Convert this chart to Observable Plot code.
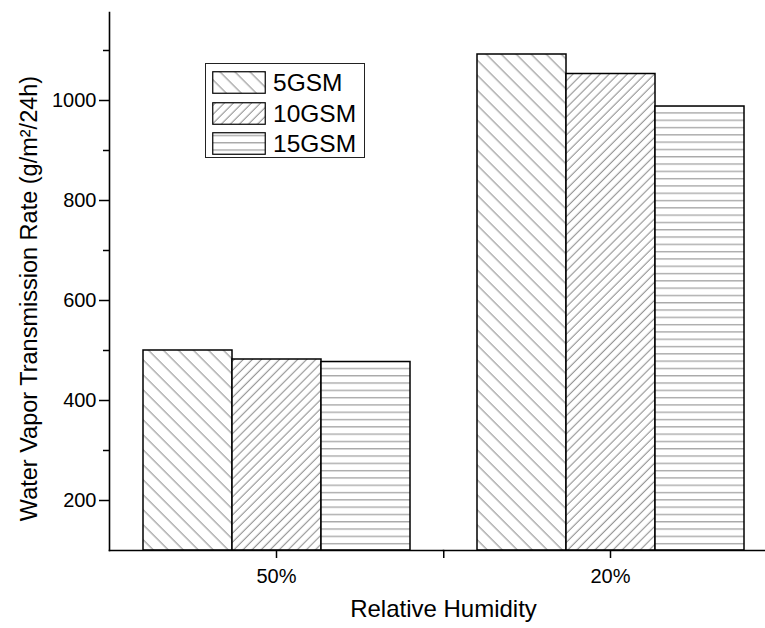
<!DOCTYPE html>
<html><head><meta charset="utf-8">
<script src="https://cdn.jsdelivr.net/npm/d3@7"></script>
<script src="https://cdn.jsdelivr.net/npm/@observablehq/plot@0.6"></script>
<style>
html,body{margin:0;padding:0;background:#fff;overflow:hidden}
#wrap{position:relative;width:765px;height:628px}
#wrap g[aria-label="fx-axis label"]{font-size:24px}
#legend{position:absolute;left:205px;top:63px;width:158px;height:93px;border:1px solid #222;background:#fff;font-family:"Liberation Sans",Arial,sans-serif;font-size:24.5px;color:#000}
.item{position:absolute;left:6px;height:23px;display:flex;align-items:center}
.item svg{display:block}
.item span{margin-left:7px;line-height:23px}
</style></head>
<body>
<svg width="0" height="0" style="position:absolute">
<defs>
<pattern id="hatch5GSM" patternUnits="userSpaceOnUse" width="10.6" height="10.6" patternTransform="rotate(-45)"><rect width="10.6" height="10.6" fill="#fff"/><line x1="5" y1="0" x2="5" y2="10.6" stroke="#666" stroke-width="0.8"/></pattern>
<pattern id="hatch10GSM" patternUnits="userSpaceOnUse" width="6.4" height="6.4" patternTransform="rotate(45)"><rect width="6.4" height="6.4" fill="#fff"/><line x1="3" y1="0" x2="3" y2="6.4" stroke="#666" stroke-width="0.8"/></pattern>
<pattern id="hatch15GSM" patternUnits="userSpaceOnUse" width="10" height="7.3"><rect width="10" height="7.3" fill="#fff"/><line x1="0" y1="3.5" x2="10" y2="3.5" stroke="#888" stroke-width="1"/></pattern>
</defs></svg>
<div id="wrap"></div>
<script>
const groups = ["50%", "20%"];
const series = ["5GSM", "10GSM", "15GSM"];
const wvtr5GSM = [500, 1092];
const wvtr10GSM = [482, 1053];
const wvtr15GSM = [477, 988];
const yDomain = [100, 1176];
const majorTicks = [200, 400, 600, 800, 1000];
const minorTicks = [300, 500, 700, 900, 1100];
const yTitle = "Water Vapor Transmission Rate (g/m²/24h)";
const xTitle = "Relative Humidity";

const valuesBySeries = {"5GSM": wvtr5GSM, "10GSM": wvtr10GSM, "15GSM": wvtr15GSM};
const data = series.flatMap(s => groups.map((g, i) => ({group: g, series: s, value: valuesBySeries[s][i]})));

const W = 765, H = 628, mL = 108, mR = -12, mT = 12, mB = 78;
const facetW = (W - mL - mR) / groups.length;
const groupInset = 33;
const barW = (facetW - 2 * groupInset) / series.length;
const font = '"Liberation Sans", Arial, sans-serif';

const chart = Plot.plot({
  width: W, height: H,
  marginLeft: mL, marginRight: mR, marginTop: mT, marginBottom: mB,
  style: {fontFamily: font, fontSize: "20px", color: "#000", background: "#fff", overflow: "visible"},
  fx: {domain: groups, padding: 0, label: null},
  x: {domain: series, padding: 0, insetLeft: groupInset, insetRight: groupInset, axis: null},
  y: {domain: yDomain},
  color: {domain: series, range: series.map(s => `url(#hatch${s})`)},
  marks: [
    Plot.barY(data, {fx: "group", x: "series", y1: yDomain[0], y2: "value", fill: "series", stroke: "#000", strokeWidth: 1.5}),
    Plot.frame({anchor: "left", facetAnchor: "left", stroke: "#000", strokeWidth: 1.6}),
    Plot.frame({anchor: "bottom", stroke: "#000", strokeWidth: 1.6}),
    Plot.axisY(majorTicks, {tickSize: 10, tickPadding: 3, fontSize: 20, label: null, strokeWidth: 1.5, tickFormat: d => String(d)}),
    Plot.axisY(minorTicks, {tickSize: 6, text: null, label: null, strokeWidth: 1.5}),
    Plot.axisFx({anchor: "bottom", tickSize: 8, tickPadding: 10, fontSize: 20, label: xTitle, labelAnchor: "center", labelOffset: 66, strokeWidth: 1.5}),
    Plot.ruleX([groups[0]], {fx: d => d, x: () => series[series.length - 1], dx: barW / 2 + groupInset, y1: yDomain[0], y2: yDomain[0], insetBottom: -8, stroke: "#000", strokeWidth: 1.5}),
    Plot.text([yTitle], {frameAnchor: "left", facetAnchor: "left", rotate: -90, textAnchor: "middle", lineAnchor: "middle", dx: -80, dy: 17, fontSize: 23.5})
  ]
});
document.getElementById("wrap").appendChild(chart);

const legend = document.createElement("div");
legend.id = "legend";
series.forEach((s, i) => {
  const item = document.createElement("div");
  item.className = "item";
  item.style.top = (7 + i * 30.5) + "px";
  item.innerHTML = `<svg width="54" height="23"><rect x="0.75" y="0.75" width="52.5" height="21.5" fill="url(#hatch${s})" stroke="#000" stroke-width="1.2"/></svg><span>${s}</span>`;
  legend.appendChild(item);
});
document.getElementById("wrap").appendChild(legend);
</script>
</body></html>
